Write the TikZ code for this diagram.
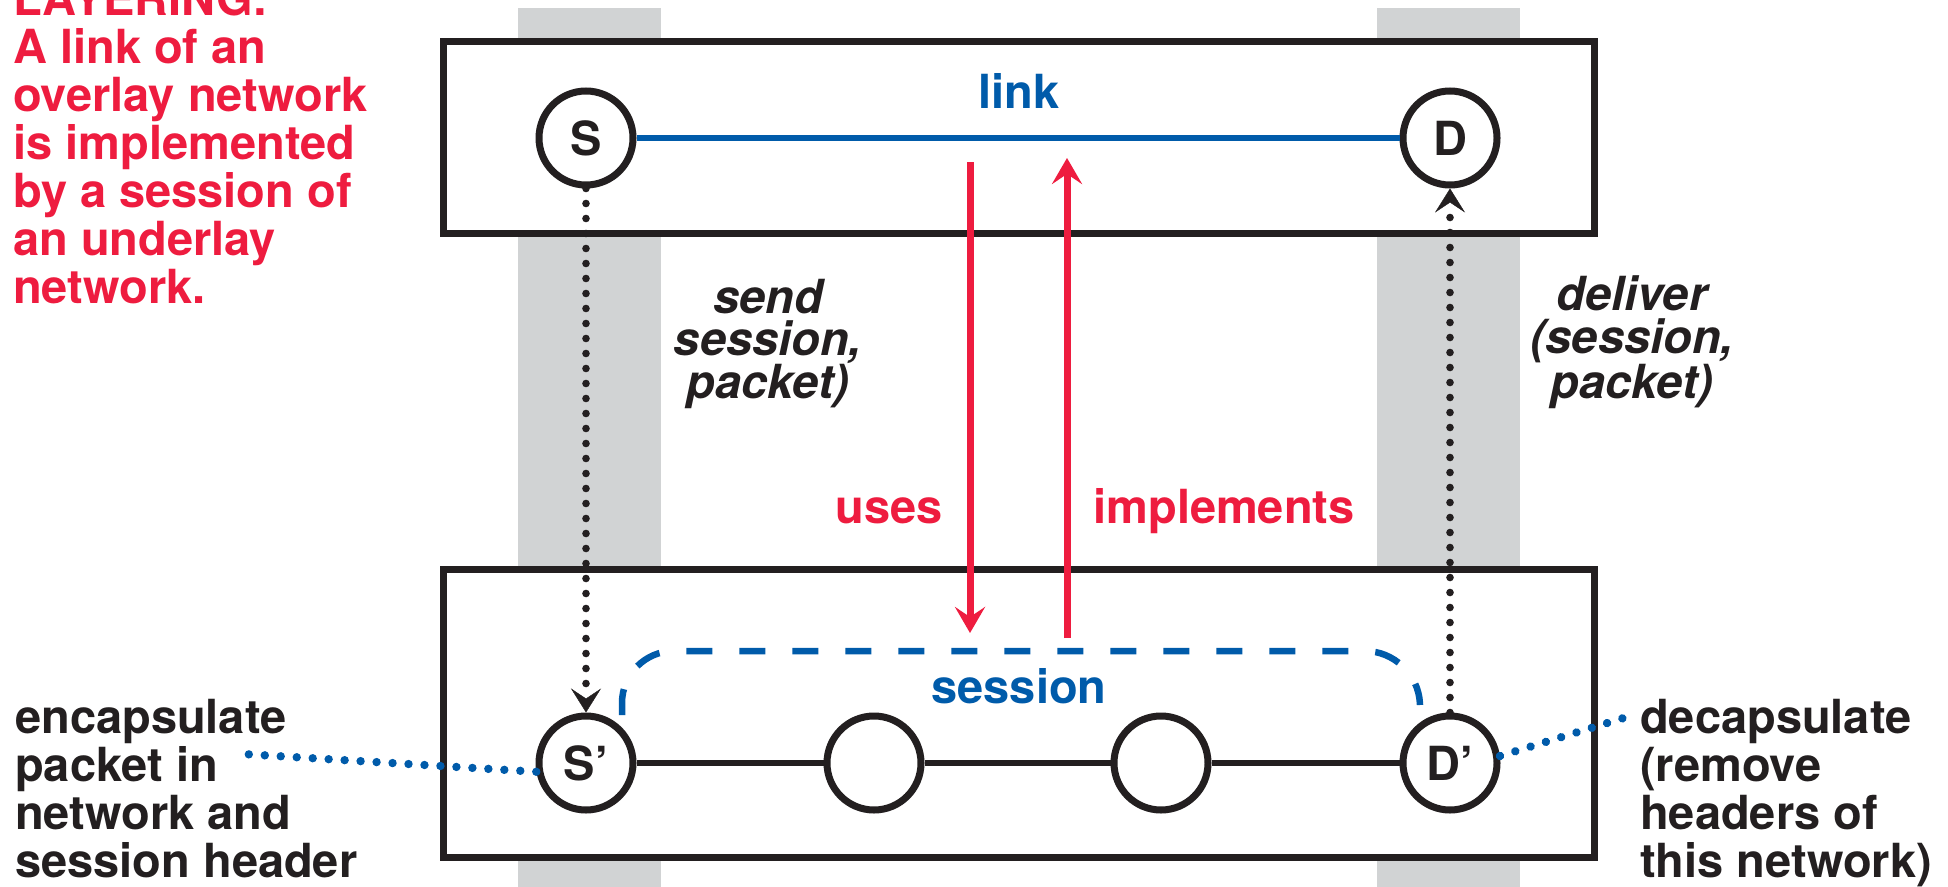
\documentclass[tikz,border=0pt]{standalone}
\usepackage{fontspec}
\setmainfont{TeX Gyre Heros}
\usetikzlibrary{arrows.meta,decorations.markings}
\definecolor{ink}{HTML}{231F20}
\definecolor{alertred}{HTML}{EE1C3F}
\definecolor{netblue}{HTML}{005BAA}
\definecolor{bandgray}{HTML}{D1D3D4}
\newcommand{\bigtext}{\fontsize{47}{48}\selectfont\bfseries}
\newcommand{\calltext}{\fontsize{47}{42.5}\selectfont\bfseries\itshape}
\begin{document}
\begin{tikzpicture}[x=1pt,y=-1pt,
  band/.style={fill=bandgray,draw=none},
  layerbox/.style={draw=ink,line width=7pt,fill=white},
  netnode/.style={circle,draw=ink,line width=7pt,fill=white,minimum size=94pt,
    inner sep=0pt,text=ink,font=\bigtext},
  label/.style={inner sep=0pt,font=\bigtext},
  callname/.style={inner sep=0pt,font=\calltext,text=ink,align=center},
  blocktext/.style={inner sep=0pt,font=\bigtext,align=left,anchor=base west},
  % dotted service call: round dots ending in a notched tip
  calldots/.style={decoration={markings,
      mark=between positions 0 and 0.96 step 15pt with {\fill[ink] (0,0) circle (3.8pt);},
      mark=at position 1 with {\arrow[ink]{Stealth[length=24pt,width=30pt,inset=10pt]}}},
    decorate},
  layerarrow/.style={alertred,line width=7pt,
    -{Stealth[length=26pt,width=30pt,inset=10pt]}},
  % dotted leader from a note to its node
  leader/.style={decoration={markings,
      mark=between positions 0 and 1 step 16pt with {\fill[netblue] (0,0) circle (4.2pt);}},
    decorate},
]
\useasboundingbox (0,0) rectangle (1948,886);
\begin{scope}
\clip (0,0) rectangle (1948,886);

% vertical host bands behind both layers
\fill[band] (518,8) rectangle (661,900);
\fill[band] (1377,8) rectangle (1520,900);

% overlay and underlay layers
\draw[layerbox] (443,41.5) rectangle (1594,233.5);
\draw[layerbox] (443,569) rectangle (1594,857);

% nodes of the overlay
\node[netnode] (S) at (586,138) {S};
\node[netnode] (D) at (1450,138) {D};

% nodes of the underlay
\node[netnode] (S2) at (586,763) {S’};
\node[netnode] (M1) at (874,763) {};
\node[netnode] (M2) at (1161,763) {};
\node[netnode] (D2) at (1450,763) {D’};

% overlay link
\draw[netblue,line width=5.5pt] (S) -- (D);
\node[label,text=netblue,anchor=base] (linklbl) at (1019,108) {link};

% underlay path
\draw[ink,line width=6.5pt] (S2) -- (M1) -- (M2) -- (D2);

% session outline
\coordinate (sessA) at (622,715);
\coordinate (sessB) at (622,651);
\coordinate (sessC) at (1417,651);
\coordinate (sessD) at (1420,705);
\draw[netblue,line width=6.5pt,dash pattern=on 26pt off 27pt,rounded corners=52pt]
  (sessA) -- (sessB) -- (sessC) -- (sessD);
\node[label,text=netblue,anchor=base] (sesslbl) at (1019,703) {session};

% layering arrows
\coordinate (usesTop) at (970,162);
\coordinate (usesEnd) at (970,633);
\coordinate (implBot) at (1067,638);
\coordinate (implEnd) at (1067,158);
\draw[layerarrow] (usesTop) -- (usesEnd);
\draw[layerarrow] (implBot) -- (implEnd);
\node[label,text=alertred,anchor=base east] (uses) at (943,523) {uses};
\node[label,text=alertred,anchor=base west] (impl) at (1093,523) {implements};

% service calls between the layers
\path[calldots] (S) -- (S2);
\path[calldots] (D2) -- (D);
\node[callname,anchor=base] (send) at (768,398) {send\\session,\\packet)};
\node[callname,anchor=base] (deliver) at (1632,398) {deliver\\(session,\\packet)};

% side notes (anchored on the baseline of their last line)
\node[blocktext,text=alertred] (layering) at (13,303)
  {LAYERING:\\A link of an\\overlay network\\is implemented\\by a session of\\an underlay\\network.};
\node[blocktext,text=ink] (enc) at (15,877)
  {encapsulate\\packet in\\network and\\session header};
\node[blocktext,text=ink] (dec) at (1640,877)
  {decapsulate\\(remove\\headers of\\this network)};

% leaders from the notes to the end nodes
\coordinate (encEnd) at (243,754);
\coordinate (decEnd) at (1630,716);
\path[leader] (S2.190) -- (encEnd);
\path[leader] (D2.8) -- (decEnd);
\end{scope}
\end{tikzpicture}
\end{document}
